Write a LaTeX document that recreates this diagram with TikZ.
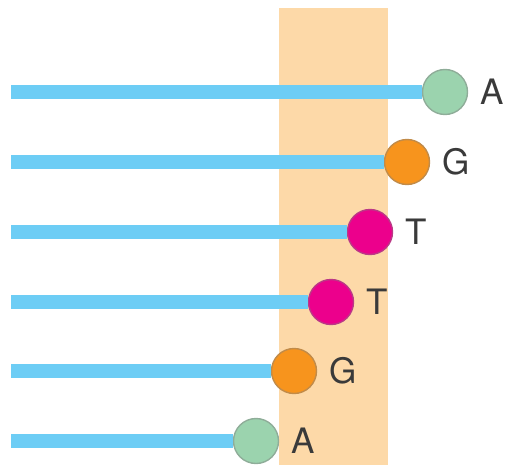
\documentclass[tikz,border=0pt]{standalone}
\usepackage{fontspec}
\setmainfont{TeX Gyre Heros}
\definecolor{bandorange}{HTML}{FDD9A8}
\definecolor{strandblue}{HTML}{6DCDF5}
\definecolor{baseA}{HTML}{9BD3AE}
\definecolor{baseG}{HTML}{F7941D}
\definecolor{baseT}{HTML}{EC008C}
\definecolor{labelgrey}{HTML}{3A3A3A}
\tikzset{
    strand/.style={line width=14pt, strandblue},
    base/.style={circle, draw=#1!55!gray, fill=#1, line width=1.4pt, minimum size=45pt, inner sep=0pt},
    baselabel/.style={anchor=west, text=labelgrey, font=\fontsize{35}{35}\selectfont, inner sep=0pt, xshift=12pt}
}
\begin{document}
\begin{tikzpicture}[x=1pt, y=-1pt]
    \useasboundingbox (0,0) rectangle (510,465);

    % Draw band
    \fill[bandorange] (279,8) rectangle (388,465);

    % Draw nodes
    \coordinate (s1) at (11,92);
    \coordinate (s2) at (11,162);
    \coordinate (s3) at (11,232);
    \coordinate (s4) at (11,302);
    \coordinate (s5) at (11,371);
    \coordinate (s6) at (11,441);
    \node[base=baseA] (a1) at (445,92) {};
    \node[base=baseG] (g1) at (407,162) {};
    \node[base=baseT] (t1) at (370,232) {};
    \node[base=baseT] (t2) at (331,302) {};
    \node[base=baseG] (g2) at (294,371) {};
    \node[base=baseA] (a2) at (256,441) {};

    % Draw connections
    \draw[strand] (s1) -- (a1);
    \draw[strand] (s2) -- (g1);
    \draw[strand] (s3) -- (t1);
    \draw[strand] (s4) -- (t2);
    \draw[strand] (s5) -- (g2);
    \draw[strand] (s6) -- (a2);

    % Labels
    \node[baselabel] (la1) at (a1.east) {A};
    \node[baselabel] (lg1) at (g1.east) {G};
    \node[baselabel] (lt1) at (t1.east) {T};
    \node[baselabel] (lt2) at (t2.east) {T};
    \node[baselabel] (lg2) at (g2.east) {G};
    \node[baselabel] (la2) at (a2.east) {A};
\end{tikzpicture}
\end{document}
